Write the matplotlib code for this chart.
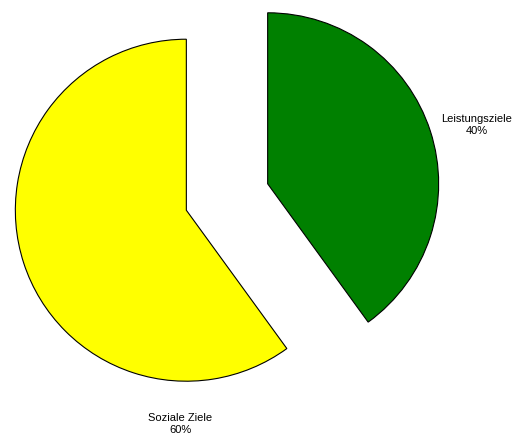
import matplotlib.pyplot as plt

plt.rcParams['font.family'] = ['Liberation Sans', 'DejaVu Sans']

categories = ['Leistungsziele', 'Soziale Ziele']
values = [40, 60]
colors = ['#008000', '#ffff00']

fig = plt.figure(figsize=(5.23, 4.37), dpi=100)
fig.set_facecolor('white')
ax = fig.add_axes([0, 0, 1, 1])

# the pie works in pixel-like units so the layout lines up with the reference
# (explode is an absolute offset here, not a fraction of the radius)
r = 171
ax.pie(values, colors=colors, startangle=90, counterclock=False,
       explode=[0.25 * r, 0.25 * r], radius=r, center=(227, 240),
       wedgeprops=dict(edgecolor='black', linewidth=0.8))

# labels sit outside the slices
label_pos = [(477, 312), (180, 13)]
for name, val, (x, y) in zip(categories, values, label_pos):
    ax.text(x, y, f"{name}\n{val}%", ha='center', va='center',
            fontsize=8, color='black', linespacing=1.2)

ax.set_xlim(0, 523)
ax.set_ylim(0, 437)
ax.set_aspect('equal')
ax.axis('off')

fig.savefig('out.png', dpi=100, facecolor='white')
